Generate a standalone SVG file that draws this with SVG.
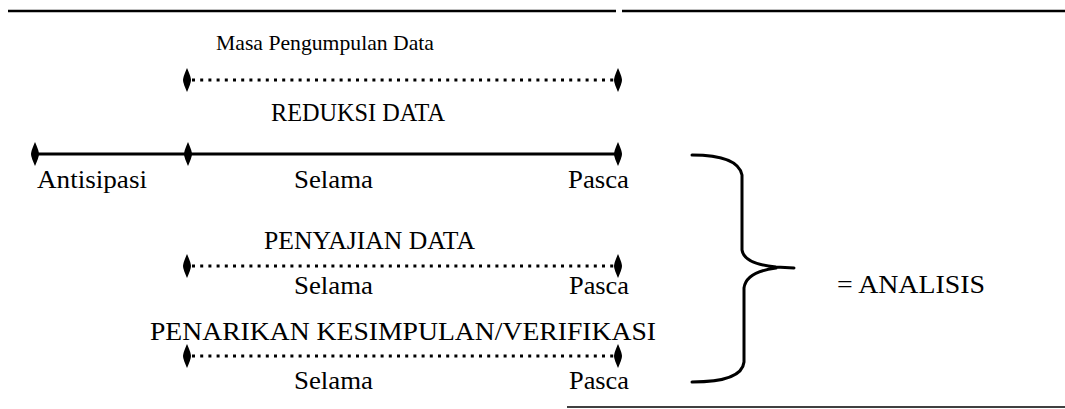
<svg xmlns="http://www.w3.org/2000/svg" width="1065" height="409" viewBox="0 0 1065 409">
<style>
text{font-family:"Liberation Serif","Times New Roman",serif;fill:#000}
.t{font-size:25px}
.h{font-size:25px}
.rule{stroke:#000;fill:none}
.dot{stroke:#000;stroke-width:3;stroke-dasharray:3 5.2;fill:none}
.solid{stroke:#000;stroke-width:3;fill:none}
.brace{stroke:#000;stroke-width:3;fill:none;stroke-linecap:round;stroke-linejoin:round}
</style>
<defs>
<path id="dia" d="M0,-12 Q4,-3 4,0 Q4,3 0,12 Q-4,3 -4,0 Q-4,-3 0,-12 Z" fill="#000"/>
</defs>
<rect width="1065" height="409" fill="#fff"/>
<g id="frame">
<line class="rule" x1="8" y1="11" x2="616" y2="11" stroke-width="2.5"/>
<line class="rule" x1="622" y1="11" x2="1065" y2="11" stroke-width="2.5"/>
<line class="rule" x1="567" y1="407" x2="1065" y2="407" stroke-width="1.6"/>
</g>
<g id="connectors">
<line class="dot" x1="192" y1="80" x2="614" y2="80"/>
<line class="solid" x1="35" y1="154" x2="618" y2="154"/>
<line class="dot" x1="192" y1="266" x2="614" y2="266"/>
<line class="dot" x1="192" y1="356" x2="614" y2="356"/>
<use href="#dia" x="187" y="80"/>
<use href="#dia" x="618" y="80"/>
<use href="#dia" x="35" y="154"/>
<use href="#dia" x="188" y="154"/>
<use href="#dia" x="618" y="154"/>
<use href="#dia" x="187" y="266"/>
<use href="#dia" x="618" y="266"/>
<use href="#dia" x="187" y="356"/>
<use href="#dia" x="618" y="356"/>
<path class="brace" d="M692,155 Q738,155 742,175 L742,250 Q744,264 776,267 L794,268 M776,268 Q746,272 744,288 L744,362 Q742,382 692,382"/>
</g>
<g id="masa"><text x="216" y="50" font-size="22" textLength="218" lengthAdjust="spacingAndGlyphs">Masa Pengumpulan Data</text></g>
<g id="reduksi"><text class="t" x="271" y="121" textLength="174" lengthAdjust="spacingAndGlyphs">REDUKSI DATA</text></g>
<g id="timeline1">
<text class="t" x="37" y="188" textLength="110" lengthAdjust="spacingAndGlyphs">Antisipasi</text>
<text class="t" x="294" y="188" textLength="79" lengthAdjust="spacingAndGlyphs">Selama</text>
<text class="t" x="568" y="188" textLength="61" lengthAdjust="spacingAndGlyphs">Pasca</text>
</g>
<g id="penyajian">
<text class="t" x="264" y="249" textLength="211" lengthAdjust="spacingAndGlyphs">PENYAJIAN DATA</text>
<text class="t" x="294" y="294" textLength="79" lengthAdjust="spacingAndGlyphs">Selama</text>
<text class="t" x="569" y="294" textLength="60" lengthAdjust="spacingAndGlyphs">Pasca</text>
</g>
<g id="penarikan">
<text class="t" x="150" y="340" textLength="506" lengthAdjust="spacingAndGlyphs">PENARIKAN KESIMPULAN/VERIFIKASI</text>
<text class="t" x="294" y="389" textLength="79" lengthAdjust="spacingAndGlyphs">Selama</text>
<text class="t" x="569" y="389" textLength="60" lengthAdjust="spacingAndGlyphs">Pasca</text>
</g>
<g id="analisis"><text class="h" x="837" y="293" textLength="148" lengthAdjust="spacingAndGlyphs">= ANALISIS</text></g>
</svg>
